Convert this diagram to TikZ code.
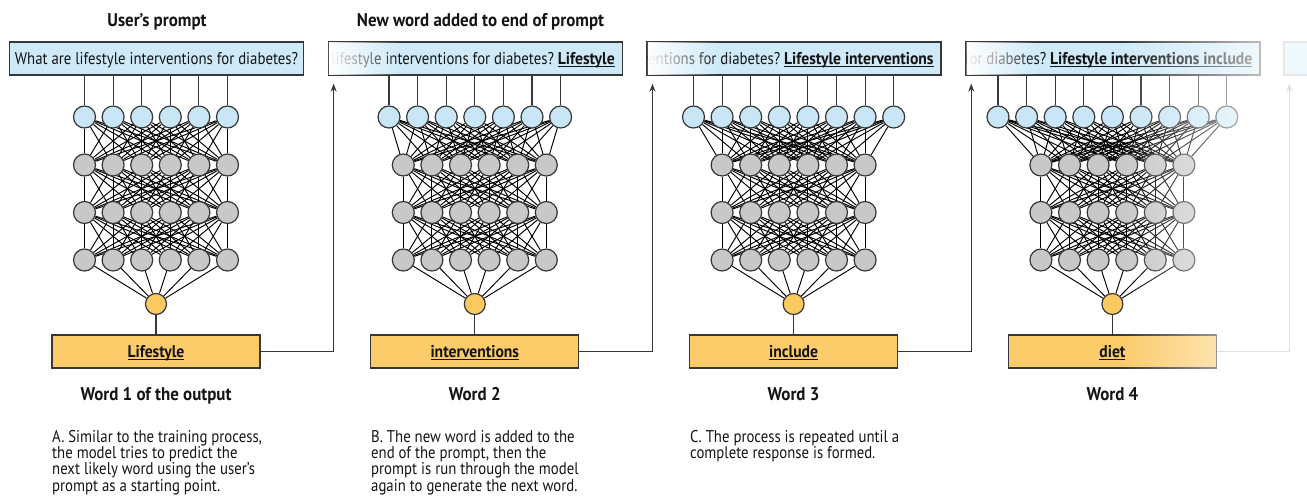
\documentclass[tikz,border=0pt]{standalone}
\usepackage{fontspec}
\setmainfont{PT Sans}[UprightFeatures={FakeStretch=0.87}, BoldFeatures={FakeStretch=0.92}]
\usetikzlibrary{fadings,calc,arrows.meta}
\pgfdeclarelayer{bg}
\pgfsetlayers{bg,main}
\definecolor{pbblue}{RGB}{206,234,248}
\definecolor{ndblue}{RGB}{200,230,246}
\definecolor{ndgray}{RGB}{200,200,200}
\definecolor{ndyel}{RGB}{252,200,96}
\definecolor{wbyel}{RGB}{252,203,106}
\definecolor{bord}{RGB}{55,55,55}
\definecolor{txt}{RGB}{20,20,20}
\tikzfading[name=fadeleft, left color=transparent!0, right color=transparent!100]
\tikzfading[name=faderight, left color=transparent!100, right color=transparent!25]
\newsavebox\ulbox
\newcommand\myul[1]{\sbox\ulbox{#1}\rlap{\rule[-3pt]{\wd\ulbox}{1.4pt}}\usebox\ulbox}
\begin{document}
\begin{tikzpicture}[x=1pt,y=-1pt,
  font=\fontsize{17}{16.3}\selectfont, text=txt,
  promptbox/.style={draw=bord, line width=1.3pt, fill=pbblue, minimum width=294, minimum height=33, inner sep=0, text height=11.5, text depth=0.5},
  wordbox/.style={draw=bord, line width=1.3pt, fill=wbyel, minimum width=208, minimum height=33, inner sep=0},
  neuron/.style={circle, draw=bord, line width=1.2pt, minimum size=22, inner sep=0},
  inn/.style={neuron, fill=ndblue},
  hid/.style={neuron, fill=ndgray},
  outn/.style={neuron, fill=ndyel, minimum size=21},
  edge/.style={line width=0.95pt, draw=black},
  feed/.style={line width=1.1pt, draw=bord},
  arrowline/.style={line width=1.1pt, draw=bord, -{Stealth[length=8pt,width=6pt]}},
  title/.style={font=\fontsize{18.4}{16.3}\selectfont\bfseries, inner sep=0},
  wtext/.style={inner sep=0, text height=11.5, text depth=0.5, font=\fontsize{17}{16.3}\selectfont\bfseries},
  desc/.style={align=left, anchor=north west, inner sep=0}
]
\useasboundingbox (0,0) rectangle (1307,501);

\node[title, anchor=base] (t-user) at (157,26) {User's prompt};
\node[title, anchor=base] (t-new) at (480.5,26) {New word added to end of prompt};

\foreach \k/\n in {1/6,2/7,3/8,4/9} {
  \pgfmathsetmacro\c{156+318.8*(\k-1)}
  \node[promptbox] (pr-\k) at (\c+0.5,58.5) {};
  \foreach \i in {1,...,\n} {
    \node[inn] (in-\k-\i) at ({\c+(\i-(\n+1)/2)*28.6},117) {};
  }
  \foreach \l/\y in {1/165,2/212.5,3/260} {
    \foreach \j in {1,...,6} {
      \node[hid] (h\l-\k-\j) at ({\c+(\j-3.5)*28.6},\y) {};
    }
  }
  \node[outn] (out-\k) at (\c,304) {};
  \node[wordbox] (wb-\k) at (\c,351.5) {};
  \begin{pgfonlayer}{bg}
    \foreach \i in {1,...,\n} {
      \draw[feed] (in-\k-\i) -- (in-\k-\i |- pr-\k.south);
      \foreach \j in {1,...,6} { \draw[edge] (in-\k-\i) -- (h1-\k-\j); }
    }
    \foreach \i in {1,...,6} {
      \foreach \j in {1,...,6} {
        \draw[edge] (h1-\k-\i) -- (h2-\k-\j);
        \draw[edge] (h2-\k-\i) -- (h3-\k-\j);
      }
      \draw[edge] (h3-\k-\i) -- (out-\k);
    }
    \draw[feed] (out-\k) -- (wb-\k);
  \end{pgfonlayer}
}

% word box labels
\foreach \k/\w in {1/Lifestyle,2/interventions,3/include,4/diet} {
  \node[wtext] (wt-\k) at (wb-\k) {\myul{\w}};
}

% prompt texts
\node[inner sep=0, text height=11.5, text depth=0.5] (ptx-1) at (pr-1) {What are lifestyle interventions for diabetes?};
\foreach \k/\p/\s in {2/{lifestyle interventions for diabetes?}/{Lifestyle},3/{interventions for diabetes?}/{Lifestyle interventions},4/{for diabetes?}/{Lifestyle interventions include}} {
  \begin{scope}
    \clip ($(pr-\k.north west)+(1.3,1.3)$) rectangle ($(pr-\k.south east)+(-1.3,-1.3)$);
    \node[anchor=base east, inner sep=0] (ptx-\k) at ($(pr-\k.east)+(-8,5.5)$) {\p\ {\fontsize{17}{16.3}\selectfont\bfseries\myul{\s}}};
    \fill[white, path fading=fadeleft] (pr-\k.north west) rectangle ($(pr-\k.south west)+(72,0)$);
  \end{scope}
}

% arrows back to the next prompt
\foreach \k/\kk in {1/2,2/3,3/4} {
  \coordinate (tip-\kk) at ($(pr-\kk.south west)+(6,8)$);
  \draw[arrowline] (wb-\k.east) -| (tip-\kk);
}

% fade of the last panel
\fill[white, path fading=faderight] (1120,36) rectangle (1275,372);

% ghost next step
\node[promptbox, draw=bord!12, fill=pbblue!30] (pr-5) at (1431,58.5) {};
\coordinate (tip-5) at ($(pr-5.south west)+(6,8)$);
\draw[arrowline, draw=black!13] (wb-4.east) -| (tip-5);

% step labels
\foreach \k/\w in {1/Word 1 of the output,2/Word 2,3/Word 3,4/Word 4} {
  \node[title, anchor=base] (wl-\k) at ($(wb-\k.center)+(0,48.5)$) {\w};
}

% descriptions
\node[desc] (d-a) at (52,430) {A. Similar to the training process,\\the model tries to predict the\\next likely word using the user's\\prompt as a starting point.};
\node[desc] (d-b) at (371,430) {B. The new word is added to the\\end of the prompt, then the\\prompt is run through the model\\again to generate the next word.};
\node[desc] (d-c) at (690,430) {C. The process is repeated until a\\complete response is formed.};
\end{tikzpicture}
\end{document}
